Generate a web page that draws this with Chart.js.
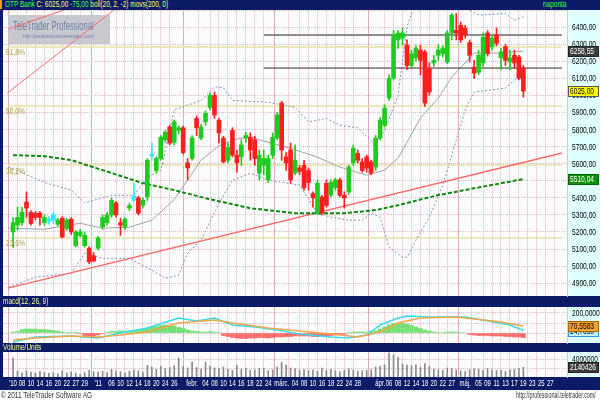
<!DOCTYPE html>
<html>
<head>
<meta charset="utf-8">
<script src="https://cdn.jsdelivr.net/npm/chart.js@4"></script>
<style>
body { margin: 0; background: #fff; }
#wrap { position: relative; width: 600px; height: 400px; background: #0c1b68; overflow: hidden; font-family: 'Liberation Sans', sans-serif; }
canvas { position: absolute; left: 0; }
.bar { position: absolute; left: 0; width: 600px; font-size: 9px; line-height: 9px; white-space: nowrap; }
.sq { position: absolute; display: inline-block; transform: scaleX(0.72); transform-origin: 0 0; white-space: nowrap; }
#foot { position: absolute; left: 0; top: 390px; width: 600px; height: 10px; background: #fff; font-size: 9px; line-height: 9px; color: #333; }
</style>
</head>
<body>
<div id="wrap">
  <div class="bar" style="top:0;height:9px">
    <span style="position:absolute;left:0;top:0;width:2px;height:9px;background:#ff9900"></span>
    <span class="sq" style="left:5px;top:0"><span style="color:#44ff44">OTP Bank</span> <span style="color:#ffff66">C: 6025,00</span> <span style="color:#44ff44">-75,00</span> <span style="color:#ffff66">boll(20, 2, -2) movs(200, 0)</span></span>
    <span class="sq" style="left:543px;top:0;color:#33ff33">naponta</span>
  </div>
  <canvas id="mainChart" width="600" height="288" style="top:9px"></canvas>
  <div class="bar" style="top:297px;height:9px"><span class="sq" style="left:3px;top:0;color:#ffff88">macd(12, 26, 9)</span></div>
  <canvas id="macdChart" width="600" height="38" style="top:306px"></canvas>
  <div class="bar" style="top:344px;height:8px"><span class="sq" style="left:3px;top:-1px;color:#ffff88">Volume/Units</span></div>
  <canvas id="volChart" width="600" height="38" style="top:352px"></canvas>
  <div id="foot">
    <span class="sq" style="left:1px;top:1px">© 2011 TeleTrader Software AG</span>
    <span class="sq" style="left:516px;top:1px;transform:scaleX(0.6)">http://professional.teletrader.com/</span>
  </div>
</div>
<script>
// trading days: index 0 = 6 Dec 2010, 114 = 19 May 2011, up to 122 = 31 May
const tickDays = [0,2,4,6,8,10,12,14,16,19,22,24,26,28,30,32,34,36,40,43,45,47,49,51,53,55,57,60,63,65,67,69,71,73,75,77,82,84,86,88,90,92,94,96,98,101,104,106,108,110,112,114,116,118,120];
const tickText = ["'10","08","10","14","16","20","22","27","29","'11","06","10","12","14","18","20","24","26","febr.","04","08","10","14","16","18","22","24","márc.","04","08","10","16","18","22","24","28","ápr.","06","08","12","14","18","20","22","27","máj.","05","09","11","13","17","19","23","25","27"];

const opens  = [5200,5240,5255,5375,5315,5310,5310,5255,5265,5270,5245,5280,5220,5275,5120,5180,5120,5105,5060,5105,
                5230,5255,5300,5370,5255,5230,5340,5385,5400,5355,5405,5645,5560,5630,5740,5815,5725,5795,5810,5605,
                5630,5865,5750,5845,5930,6000,5855,5750,5620,5795,5650,5640,5750,5755,5740,5545,5590,5505,5650,5750,
                5955,5640,5680,5545,5575,5590,5560,5425,5310,5405,5485,5415,5460,5505,5415,5435,5605,5660,5610,5640,
                5610,5580,5750,5825,5985,6100,6325,6335,6295,6175,6220,6265,6255,6160,6190,6235,6245,6195,6365,6380,
                6410,6395,6310,6165,6135,6190,6365,6285,6355,6220,6285,6195,6235,6225,6160];
const highs  = [5285,5345,5345,5435,5325,5320,5320,5300,5290,5315,5280,5290,5280,5285,5210,5215,5200,5115,5080,5175,
                5300,5315,5400,5380,5280,5285,5370,5485,5410,5400,5630,5720,5640,5765,5795,5825,5855,5820,5820,5630,
                5765,5880,5830,5910,6015,6020,5865,5760,5720,5810,5680,5740,5785,5780,5760,5680,5680,5650,5780,5900,
                5965,5665,5720,5710,5590,5620,5575,5435,5505,5415,5505,5505,5515,5515,5435,5590,5710,5680,5630,5650,
                5620,5765,5870,5945,6120,6380,6380,6395,6325,6265,6290,6295,6265,6190,6235,6295,6290,6380,6480,6480,
                6430,6410,6325,6205,6265,6365,6380,6355,6395,6275,6300,6265,6265,6235,6175];
const lows   = [5110,5210,5240,5285,5240,5270,5240,5240,5245,5250,5235,5165,5210,5185,5115,5170,5110,5015,5025,5095,
                5215,5240,5285,5285,5180,5215,5325,5375,5300,5340,5385,5620,5545,5620,5725,5710,5710,5775,5655,5505,
                5620,5765,5740,5825,5915,5865,5720,5605,5605,5640,5550,5590,5725,5620,5590,5505,5535,5490,5630,5740,
                5620,5560,5485,5535,5535,5445,5445,5345,5300,5300,5345,5405,5445,5405,5340,5420,5590,5605,5550,5550,
                5535,5560,5740,5815,5970,6090,6275,6295,6150,6160,6200,6120,5935,6000,6170,6205,6225,6185,6325,6325,
                6310,6335,6195,6100,6120,6170,6230,6265,6290,6150,6175,6150,6160,6090,5990];
const closes = [5255,5285,5315,5340,5250,5285,5285,5285,5275,5300,5270,5170,5270,5200,5200,5200,5180,5025,5030,5165,
                5285,5300,5385,5300,5240,5275,5355,5410,5310,5385,5620,5655,5630,5755,5785,5720,5845,5810,5665,5575,
                5750,5810,5815,5895,6000,5885,5780,5610,5695,5650,5605,5710,5765,5680,5630,5650,5630,5630,5755,5885,
                5680,5605,5505,5620,5555,5460,5490,5400,5485,5310,5355,5490,5505,5415,5400,5580,5690,5620,5560,5575,
                5545,5750,5855,5925,6100,6355,6365,6365,6175,6245,6275,6205,5955,6020,6205,6265,6275,6365,6470,6365,
                6325,6355,6235,6130,6235,6340,6245,6335,6305,6255,6205,6220,6190,6100,6025];
const crossDays = [8, 9, 27, 31];

// bollinger(20,2) and moving average(200): [day, value]
const bollUpper = [[-1,5580],[3,5535],[7,5490],[13,5445],[16,5370],[22,5415],[27,5415],[30,5520],[33,5560],[36,5915],[42,5970],[45,6050],[47,6045],[49,5970],[57,5960],[63,5930],[66,5845],[70,5865],[73,5825],[77,5810],[81,5710],[83,5795],[86,6000],[88,6400],[90,6560],[95,6700],[99,6640],[102,6500],[104,6470],[110,6480],[112,6440],[114,6460]];
const bollMiddle = [[-1,5222],[7,5216],[15,5251],[20,5222],[26,5228],[31,5269],[36,5390],[42,5620],[46,5705],[50,5745],[53,5755],[55,5740],[62,5690],[68,5638],[73,5580],[79,5533],[83,5562],[86,5632],[91,5867],[95,5984],[98,6107],[103,6248],[108,6248],[114,6258.55]];
const bollLower = [[-1,4876],[5,4935],[13,4958],[16,5075],[20,5046],[26,5046],[31,4976],[34,4929],[37,4947],[39,5075],[42,5152],[46,5369],[49,5503],[53,5544],[57,5503],[60,5492],[64,5474],[68,5310],[71,5287],[75,5269],[78,5269],[80,5310],[82,5287],[84,5111],[87,5052],[88,5052],[90,5152],[93,5287],[96,5474],[99,5738],[101,5914],[103,6019],[110,6043],[112,6089],[114,6119]];
const movAvg200 = [[0,5650],[7,5644],[13,5621],[20,5562],[29,5486],[36,5445],[43,5398],[53,5339],[63,5310],[74,5310],[81,5328],[86,5357],[95,5416],[114,5510.04]];

const fibLevels = [6284, 5938, 5592, 5165];
const fibText = ['61,8%', '50,0%', '38,2%', '23,6%'];
const trendLow = [[-1.1,4871],[122.6,5662]];
const trendSteep = [[-1.3,6013],[24,6530]];
const trendTop = [[-1.1,6388],[13,6515]];
const resistHigh = [[56,6353],[122.6,6353]];
const resistLow = [[56,6160],[122.6,6160]];

const macdLine = [[0,-90],[5,-40],[13,-30],[19,-50],[24,0],[30,50],[37,150],[41,120],[45,150],[49,80],[54,60],[59,30],[64,-10],[71,-40],[75,-50],[79,-20],[82,80],[86,150],[88,170],[93,160],[101,160],[105,130],[111,80],[114,24.765]];
const signalLine = [[0,-70],[5,-50],[13,-30],[19,-40],[24,-20],[30,10],[37,100],[45,130],[49,100],[57,50],[64,20],[71,-10],[77,-40],[82,10],[86,100],[91,150],[99,160],[103,140],[109,110],[114,70.5583]];
const macdHist = [10,15,35,40,40,40,35,35,30,25,20,10,5,5,3,-5,-25,-30,-30,-20,
                  -5,5,15,15,20,20,20,20,25,35,50,60,65,75,80,75,70,55,45,30,
                  20,15,10,10,15,10,5,-25,-35,-45,-50,-55,-55,-50,-50,-45,-45,-50,-45,-40,
                  -40,-35,-35,-30,-30,-30,-30,-35,-35,-30,-30,-25,-20,-15,-10,5,10,10,10,10,
                  15,20,40,60,80,95,100,95,90,75,60,45,30,20,10,5,5,10,10,10,
                  5,0,-15,-20,-25,-25,-25,-30,-30,-30,-35,-35,-40,-40,-46];
const volumes = [4200000,1300000,900000,1400000,1100000,900000,1200000,1000000,800000,1000000,700000,1400000,900000,1100000,900000,600000,1000000,1500000,1200000,1100000,
                 1300000,1000000,1700000,1400000,1200000,900000,1300000,1600000,1400000,1100000,2600000,2200000,1700000,2400000,1900000,2100000,2500000,4200000,2300000,2000000,
                 3300000,2100000,1800000,3300000,2400000,2000000,1900000,2200000,1700000,1500000,2600000,1800000,2000000,1500000,1600000,1900000,2000000,1400000,1600000,2200000,
                 3300000,2700000,2000000,1800000,1500000,1700000,1400000,1600000,1300000,2000000,1500000,1700000,1400000,1200000,1500000,1800000,1600000,1300000,1400000,1500000,
                 1600000,2200000,2400000,2700000,5300000,4900000,4400000,2900000,2700000,2500000,2700000,2100000,3000000,2400000,1800000,1600000,1500000,2000000,1900000,1600000,
                 1400000,1200000,1600000,1800000,1700000,1500000,1900000,1600000,1400000,1500000,1300000,1600000,1700000,1900000,2140426];

const xMin = -1.1, xMax = 122.6;
const days = opens.map((_, i) => i);
const upColor = '#1ecb1e', downColor = '#ff1e1e', crossColor = '#33e6ff';
const candleColors = days.map(i => crossDays.includes(i) ? crossColor : (closes[i] >= opens[i] ? upColor : downColor));
const pts = arr => arr.map(p => ({ x: p[0], y: p[1] }));
const monthTick = t => /^[a-z'á]/.test(t);
const comma = (v, d) => v.toFixed(d).replace('.', ',');
const FONT = "9px 'Liberation Sans', Arial, sans-serif";

// narrow text, like the small bitmap font of the original
function squeeze(ctx, text, x, y, align, k) {
  ctx.save();
  ctx.translate(x, y);
  ctx.scale(k || 0.74, 1);
  ctx.textAlign = align || 'left';
  ctx.fillText(text, 0, 0);
  ctx.restore();
}

function xAxis(showLabels) {
  return {
    type: 'linear', min: xMin, max: xMax,
    afterBuildTicks: ax => { ax.ticks = tickDays.map(v => ({ value: v })); },
    afterFit: ax => { ax.height = showLabels ? 13 : 0; },
    ticks: { display: false, callback: (v, i) => tickText[i] },
    grid: {
      drawTicks: false,
      color: c => monthTick(tickText[c.index] || '') ? '#dcaac4' : '#f3d3e1',
      lineWidth: 1
    },
    border: { display: false }
  };
}

function yAxis(opts) {
  return Object.assign({
    position: 'right',
    afterFit: ax => { ax.width = 33; },
    grid: { drawTicks: false, color: '#eab6cc', borderDash: [1, 2] },
    border: { display: true, color: '#d6d29a', dash: [1, 1] }
  }, opts);
}

const panelPaint = {
  id: 'panelPaint',
  beforeDraw(chart) {
    const { ctx, chartArea: a } = chart;
    ctx.save();
    ctx.fillStyle = '#fdfcfd';
    ctx.fillRect(a.left, a.top, a.right - a.left, a.bottom - a.top);
    ctx.fillStyle = '#e0ffff';
    ctx.fillRect(a.right, a.top, chart.width - a.right, a.bottom - a.top);
    ctx.restore();
  },
  beforeDatasetsDraw(chart, args, opts) {
    if (!opts.stamp) return;
    const { ctx, chartArea: a } = chart;
    ctx.save();
    ctx.fillStyle = 'rgba(194,196,202,0.92)';
    ctx.fillRect(a.left + 5, a.top + 5, 102, 29);
    ctx.fillStyle = '#6f7ea8';
    ctx.textBaseline = 'alphabetic';
    ctx.font = "12px 'Liberation Sans', Arial, sans-serif";
    squeeze(ctx, 'TeleTrader Professional', a.left + 10, a.top + 20, 'left', 0.64);
    ctx.font = "6px 'Liberation Sans', Arial, sans-serif";
    squeeze(ctx, 'http://professional.teletrader.com/', a.left + 20, a.top + 28, 'left', 0.8);
    ctx.restore();
  },
  afterDraw(chart, args, opts) {
    const { ctx, chartArea: a, scales } = chart;
    ctx.save();
    ctx.font = FONT;
    ctx.textBaseline = 'middle';
    // right axis labels
    ctx.fillStyle = '#000';
    scales.y.ticks.forEach(t => {
      if (t.label) squeeze(ctx, t.label, a.right + 5, scales.y.getPixelForValue(t.value) + 0.5);
    });
    // date labels under the last panel
    if (opts.dates) {
      ctx.fillStyle = '#ffffff';
      scales.x.ticks.forEach(t => {
        const px = Math.max(scales.x.getPixelForValue(t.value), a.left + 4);
        squeeze(ctx, t.label, px, a.bottom + 7, 'center', 0.66);
      });
    }
    (opts.notes || []).forEach(n => {
      ctx.fillStyle = '#a9a03c';
      squeeze(ctx, n.text, a.left + 3, scales.y.getPixelForValue(n.value) + 6);
    });
    (opts.tags || []).forEach(t => {
      const py = Math.round(scales.y.getPixelForValue(t.value));
      ctx.fillStyle = t.bg;
      ctx.fillRect(a.right + 1, py - 5, 31, 11);
      ctx.strokeStyle = t.edge;
      ctx.strokeRect(a.right + 1.5, py - 4.5, 30, 10);
      ctx.fillStyle = t.fg;
      squeeze(ctx, t.text, a.right + 3, py + 0.5);
    });
    ctx.restore();
  }
};

Chart.register(panelPaint);

const lineSet = (data, color, width, dash, order) => ({
  type: 'line', data: pts(data), borderColor: color, borderWidth: width,
  borderDash: dash || [], pointRadius: 0, tension: 0, fill: false, order: order
});

const fibSets = fibLevels.map(v => lineSet([[xMin, v], [xMax, v]], '#e6e2a6', 1.5, null, 20));
const lastOf = arr => arr[arr.length - 1];

new Chart(document.getElementById('mainChart'), {
  type: 'bar',
  data: {
    datasets: [
      ...fibSets,
      lineSet(bollUpper, '#8290c4', 1, [2, 2], 12),
      lineSet(bollLower, '#8290c4', 1, [2, 2], 12),
      lineSet(bollMiddle, '#a4a4a4', 1, null, 11),
      lineSet(resistHigh, '#8c8c8c', 2, null, 10),
      lineSet(resistLow, '#2a2a2a', 1, null, 10),
      lineSet(trendLow, '#ff6a6a', 1.5, null, 9),
      lineSet(trendSteep, '#ff6a6a', 1, null, 9),
      lineSet(trendTop, '#ff6a6a', 1, null, 9),
      lineSet(movAvg200, '#0a8a0a', 2, [4, 2], 8),
      {
        type: 'bar', data: days.map(i => ({ x: i, y: [lows[i], highs[i]] })),
        backgroundColor: candleColors, barThickness: 1, grouped: false, order: 2
      },
      {
        type: 'bar', data: days.map(i => ({ x: i, y: [opens[i], closes[i]] })),
        backgroundColor: candleColors, barThickness: 4, grouped: false, order: 1
      }
    ]
  },
  options: {
    responsive: false, animation: false, events: [],
    layout: { padding: { left: 3, top: 1, bottom: 1, right: 0 } },
    plugins: {
      legend: { display: false }, tooltip: { enabled: false },
      panelPaint: {
        stamp: true,
        tags: [
          { value: lastOf(bollMiddle)[1], text: comma(lastOf(bollMiddle)[1], 2), bg: '#3c3c3c', fg: '#fff', edge: '#222' },
          { value: lastOf(closes), text: comma(lastOf(closes), 2), bg: '#ffff00', fg: '#000', edge: '#555' },
          { value: lastOf(movAvg200)[1], text: comma(lastOf(movAvg200)[1], 2), bg: '#109010', fg: '#fff', edge: '#060' }
        ],
        notes: fibLevels.map((v, i) => ({ value: v, text: fibText[i] }))
      }
    },
    scales: {
      x: xAxis(false),
      y: yAxis({
        min: 4825, max: 6500,
        ticks: { display: false, stepSize: 100, includeBounds: false, callback: v => v >= 6500 ? '' : comma(v, 2) }
      })
    }
  }
});

new Chart(document.getElementById('macdChart'), {
  type: 'bar',
  data: {
    datasets: [
      lineSet(macdLine, '#35dcec', 1.5, null, 1),
      lineSet(signalLine, '#f2a648', 1.5, null, 0),
      {
        type: 'bar', data: days.map(i => ({ x: i, y: macdHist[i] })),
        backgroundColor: macdHist.map(v => v >= 0 ? '#74e074' : '#ff6c6c'),
        barThickness: 4, grouped: false, order: 3
      }
    ]
  },
  options: {
    responsive: false, animation: false, events: [],
    layout: { padding: { left: 3, top: 1, bottom: 1, right: 0 } },
    plugins: {
      legend: { display: false }, tooltip: { enabled: false },
      panelPaint: {
        tags: [
          { value: lastOf(macdLine)[1], text: comma(lastOf(macdLine)[1], 4), bg: '#bff4ff', fg: '#000', edge: '#39c' },
          { value: lastOf(signalLine)[1], text: comma(lastOf(signalLine)[1], 4), bg: '#f5a030', fg: '#000', edge: '#a60' }
        ]
      }
    },
    scales: {
      x: xAxis(false),
      y: yAxis({
        min: -100, max: 260,
        afterBuildTicks: ax => { ax.ticks = [0, 100, 200].map(v => ({ value: v })); },
        ticks: { display: false, callback: v => v === 100 ? '' : comma(v, 4) }
      })
    }
  }
});

new Chart(document.getElementById('volChart'), {
  type: 'bar',
  data: {
    datasets: [{
      data: days.map(i => ({ x: i, y: volumes[i] })),
      backgroundColor: '#8a8a8a', barThickness: 1
    }]
  },
  options: {
    responsive: false, animation: false, events: [],
    layout: { padding: { left: 3, top: 0, bottom: 0, right: 0 } },
    plugins: {
      legend: { display: false }, tooltip: { enabled: false },
      panelPaint: {
        dates: true,
        tags: [{ value: lastOf(volumes), text: String(lastOf(volumes)), bg: '#3c3c3c', fg: '#fff', edge: '#222' }]
      }
    },
    scales: {
      x: xAxis(true),
      y: yAxis({
        min: 0, max: 5560000,
        afterBuildTicks: ax => { ax.ticks = [2000000, 4000000].map(v => ({ value: v })); },
        ticks: { display: false, callback: v => v === 4000000 ? '4000000' : '' }
      })
    }
  }
});
</script>
</body>
</html>
